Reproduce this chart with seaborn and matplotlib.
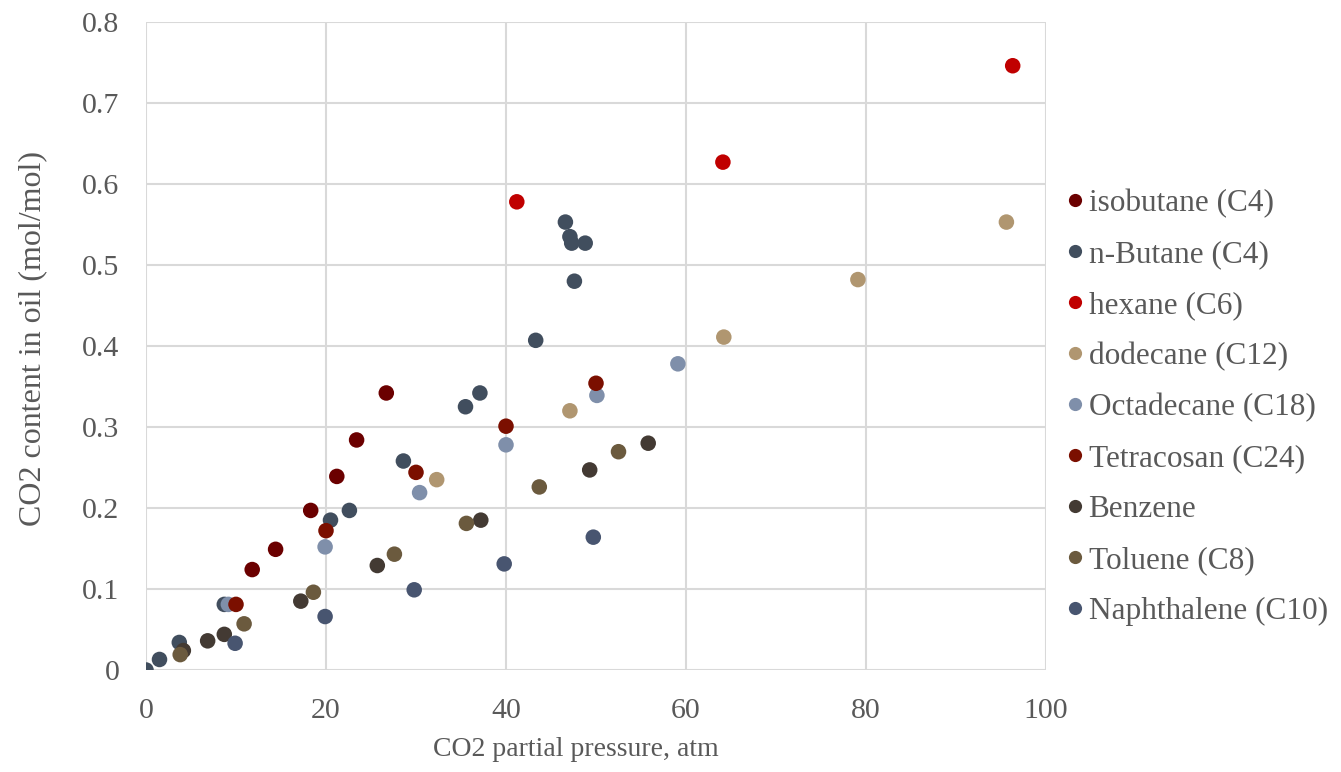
import matplotlib
matplotlib.use("Agg")
import matplotlib.pyplot as plt
import seaborn as sns
import pandas as pd

series_names = ["isobutane (C4)", "n-Butane (C4)", "hexane (C6)", "dodecane (C12)",
                "Octadecane (C18)", "Tetracosan (C24)", "Benzene", "Toluene (C8)",
                "Naphthalene (C10)"]
colors = ["#6B0000", "#414E5E", "#C00000", "#B09670", "#7F8FAA", "#7B0F00",
          "#433A33", "#6B5A3E", "#485570"]

isobutane_x = [11.8, 14.4, 18.3, 21.2, 23.4, 26.7]
isobutane_y = [0.124, 0.149, 0.197, 0.239, 0.284, 0.342]
nbutane_x = [0.0, 1.5, 3.7, 8.7, 20.5, 22.6, 28.6, 35.5, 37.1, 43.3, 47.6, 46.6, 47.1, 47.3, 48.8]
nbutane_y = [0.0, 0.013, 0.034, 0.081, 0.185, 0.197, 0.258, 0.325, 0.342, 0.407, 0.480, 0.553, 0.535, 0.527, 0.527]
hexane_x = [41.2, 64.1, 96.3]
hexane_y = [0.578, 0.627, 0.746]
dodecane_x = [32.3, 47.1, 64.2, 79.1, 95.6]
dodecane_y = [0.235, 0.320, 0.411, 0.482, 0.553]
octadecane_x = [9.15, 19.9, 30.4, 40.0, 50.1, 59.1]
octadecane_y = [0.081, 0.152, 0.219, 0.278, 0.339, 0.378]
tetracosan_x = [10.0, 20.0, 30.0, 40.0, 50.0]
tetracosan_y = [0.081, 0.172, 0.244, 0.301, 0.354]
benzene_x = [4.15, 6.85, 8.7, 17.2, 25.7, 37.2, 49.3, 55.8]
benzene_y = [0.024, 0.036, 0.044, 0.085, 0.129, 0.185, 0.247, 0.280]
toluene_x = [3.8, 10.9, 18.6, 27.6, 35.6, 43.7, 52.5]
toluene_y = [0.019, 0.057, 0.096, 0.143, 0.181, 0.226, 0.2695]
naphthalene_x = [9.9, 19.9, 29.8, 39.8, 49.7]
naphthalene_y = [0.033, 0.066, 0.099, 0.131, 0.164]

all_x = [isobutane_x, nbutane_x, hexane_x, dodecane_x, octadecane_x,
         tetracosan_x, benzene_x, toluene_x, naphthalene_x]
all_y = [isobutane_y, nbutane_y, hexane_y, dodecane_y, octadecane_y,
         tetracosan_y, benzene_y, toluene_y, naphthalene_y]

rows = []
for name, xs, ys in zip(series_names, all_x, all_y):
    for x, y in zip(xs, ys):
        rows.append({"x": x, "y": y, "series": name})
df = pd.DataFrame(rows)

sns.set_style("white")
plt.rcParams['font.family'] = ['Liberation Serif', 'DejaVu Serif']

fig = plt.figure(figsize=(13.41, 7.72), dpi=100)
ax = fig.add_axes([146/1341, 1-670/772, 900/1341, 648/772])

sns.scatterplot(data=df, x="x", y="y", hue="series", hue_order=series_names,
                palette=colors, s=125, linewidth=0, ax=ax, legend=True, zorder=3)

ax.set_xlim(0, 100)
ax.set_ylim(0, 0.8)
ax.set_xticks([0, 20, 40, 60, 80, 100])
ax.set_yticks([0, 0.1, 0.2, 0.3, 0.4, 0.5, 0.6, 0.7, 0.8])
ax.set_yticklabels(["0", "0.1", "0.2", "0.3", "0.4", "0.5", "0.6", "0.7", "0.8"])
ax.grid(True, color="#D9D9D9", linewidth=1.5, zorder=0)
ax.set_axisbelow(True)
for sp in ax.spines.values():
    sp.set_visible(False)
ax.tick_params(axis="both", length=0, labelsize=21.5, colors="#595959")
ax.tick_params(axis="x", pad=20)
ax.tick_params(axis="y", pad=19)
ax.set_xlabel("CO2 partial pressure, atm", fontsize=20, color="#595959")
ax.set_ylabel("CO2 content in oil (mol/mol)", fontsize=23, color="#595959")
ax.xaxis.set_label_coords((576 - 146) / 900, (670 - 749) / 648)
ax.xaxis.label.set_va("center")
ax.yaxis.set_label_coords((33 - 146) / 900, (670 - 339) / 648)
ax.yaxis.label.set_va("center")

handles, labels = ax.get_legend_handles_labels()
leg = ax.legend(handles, labels, loc="center left", bbox_to_anchor=(1062/1341, 1-407.5/772),
                bbox_transform=fig.transFigure, frameon=False, fontsize=22.5,
                labelspacing=0.70, handletextpad=0.05, handlelength=0.8, markerscale=0.85,
                borderaxespad=0, borderpad=0)
for t in leg.get_texts():
    t.set_color("#595959")

fig.savefig("out.png", dpi=100)
